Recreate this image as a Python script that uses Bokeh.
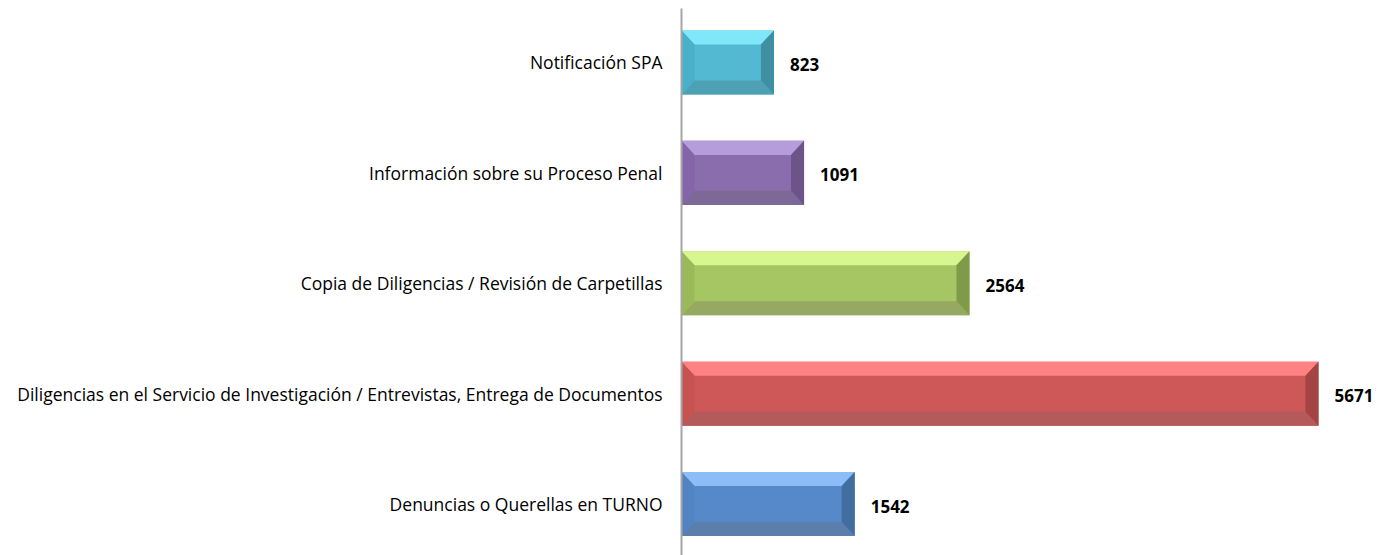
from bokeh.plotting import figure
from bokeh.models import Range1d, FixedTicker, ColumnDataSource
from bokeh.embed import file_html
from bokeh.resources import INLINE
from bokeh.core.properties import value

categories = [
    "Denuncias o Querellas en TURNO",
    "Diligencias en el Servicio de Investigación / Entrevistas, Entrega de Documentos",
    "Copia de Diligencias / Revisión de Carpetillas",
    "Información sobre su Proceso Penal",
    "Notificación SPA",
]
values = [1542, 5671, 2564, 1091, 823]

# palette per bar: face, top, bottom, left, right
face_colors = ["#5689C9", "#CE5757", "#A6C663", "#8A6DAD", "#53B9D2"]
top_colors = ["#8DBDF7", "#FF8282", "#D8F690", "#B59CDB", "#80E6FA"]
bottom_colors = ["#5B7FAA", "#B45A5A", "#95A963", "#7D6898", "#4EA0B5"]
left_colors = ["#5283C2", "#C75252", "#9ABA5A", "#8466A8", "#4AAFC8"]
right_colors = ["#426DA0", "#A44343", "#7F9A48", "#6C5489", "#3F8FA3"]

H = 0.58      # bar thickness (category units)
BV = 0.127    # vertical bevel (category units)
BH = 116      # horizontal bevel (value units)

p = figure(width=1390, height=555, output_backend="svg", toolbar_location=None,
           x_range=Range1d(0, 6312), y_range=Range1d(-0.466, 4.489),
           min_border_left=681, min_border_right=0, min_border_top=8, min_border_bottom=0)
p.outline_line_color = None
p.xgrid.visible = False
p.ygrid.visible = False
p.xaxis.visible = False

xs_face, ys_face = [], []
xs_t, ys_t, xs_b, ys_b, xs_l, ys_l, xs_r, ys_r = ([] for _ in range(8))
for i, v in enumerate(values):
    t, b = i + H / 2, i - H / 2
    xs_face.append([0, v, v, 0]); ys_face.append([b, b, t, t])
    xs_t.append([0, v, v - BH, BH]); ys_t.append([t, t, t - BV, t - BV])
    xs_b.append([0, v, v - BH, BH]); ys_b.append([b, b, b + BV, b + BV])
    xs_l.append([0, BH, BH, 0]); ys_l.append([t, t - BV, b + BV, b])
    xs_r.append([v, v - BH, v - BH, v]); ys_r.append([t, t - BV, b + BV, b])

p.patches(xs_face, ys_face, fill_color=face_colors, line_color=None)
p.patches(xs_t, ys_t, fill_color=top_colors, line_color=None)
p.patches(xs_b, ys_b, fill_color=bottom_colors, line_color=None)
p.patches(xs_l, ys_l, fill_color=left_colors, line_color=None)
p.patches(xs_r, ys_r, fill_color=right_colors, line_color=None)

src = ColumnDataSource(dict(x=values, y=list(range(len(values))), t=[str(v) for v in values]))
p.text(x="x", y="y", text="t", source=src, x_offset=16, y_offset=2, text_baseline="middle",
       text_align="left", text_font=value("Open Sans"), text_font_style="bold",
       text_font_size="17px", text_color="#000000")

ax = p.yaxis[0]
ax.ticker = FixedTicker(ticks=list(range(len(categories))))
ax.major_label_overrides = {i: c for i, c in enumerate(categories)}
ax.major_tick_line_color = None
ax.minor_tick_line_color = None
ax.axis_line_color = "#A6A6A6"
ax.axis_line_width = 2
ax.major_label_standoff = 13
ax.major_label_text_font = "Open Sans"
ax.major_label_text_font_size = "17.5px"
ax.major_label_text_color = "#000000"

open("out.html", "w").write(file_html(p, INLINE))
